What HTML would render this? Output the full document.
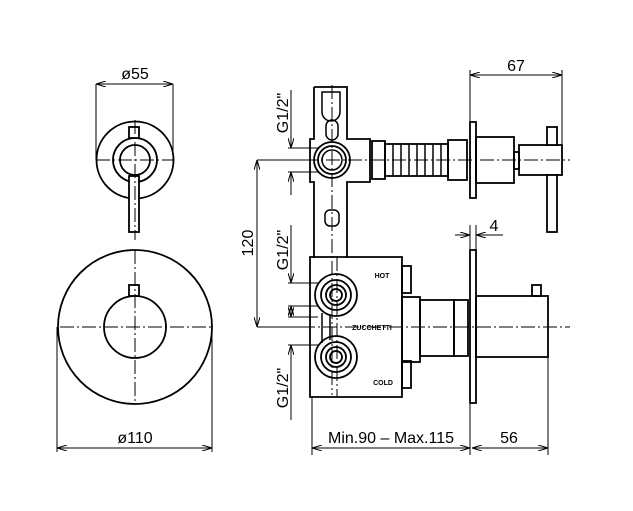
<!DOCTYPE html>
<html><head><meta charset="utf-8"><style>html,body{margin:0;padding:0;background:#fff}svg{display:block}</style></head><body>
<svg width="633" height="511" viewBox="0 0 633 511" xmlns="http://www.w3.org/2000/svg" font-family="Liberation Sans, sans-serif">
<defs><marker id="a" markerWidth="10" markerHeight="6" refX="10" refY="3" orient="auto-start-reverse" markerUnits="userSpaceOnUse"><path d="M0,0 L10,3 L0,6" fill="none" stroke="#000" stroke-width="1"/></marker></defs>
<g fill="none" stroke="#000" stroke-width="1.8">
<circle cx="135" cy="160" r="38.5"/>
<circle cx="135" cy="160" r="22"/>
<circle cx="135" cy="160" r="15"/>
<rect x="129" y="127" width="10" height="11" fill="#fff"/>
<rect x="129" y="176" width="10" height="56" fill="#fff"/>
<circle cx="135" cy="327" r="77"/>
<circle cx="135" cy="327" r="31"/>
<rect x="129" y="285" width="10" height="11"/>
<path d="M314,87 H347 V139 H370 V182 H347 V258 M314,87 V139 H310 V182 H314 V258"/>
<path d="M322,92 h18 v20 a9,9 0 0 1 -18,0 z" stroke-width="1.5"/>
<rect x="326" y="120" width="12" height="20" rx="6" stroke-width="1.5"/>
<rect x="325" y="210" width="14" height="16" rx="5" stroke-width="1.5"/>
<circle cx="332" cy="160" r="18"/><circle cx="332" cy="160" r="14"/><circle cx="332" cy="160" r="10" stroke-width="1.5"/>
<rect x="372" y="141" width="13" height="38"/>
<rect x="385" y="144" width="63" height="32"/>
<path d="M393,144v32M401,144v32M409,144v32M417,144v32M425,144v32M433,144v32M441,144v32" stroke-width="1.5"/>
<rect x="448" y="140" width="19" height="40"/>
<rect x="470" y="122" width="6" height="76"/>
<rect x="476" y="137" width="38" height="46"/>
<rect x="514" y="152" width="5" height="17"/>
<rect x="519" y="145" width="43" height="30"/>
<rect x="547" y="127" width="10" height="18" fill="#fff"/>
<rect x="547" y="175" width="10" height="57" fill="#fff"/>
<path d="M310,257 H402 V397 H310 Z"/>
<circle cx="336" cy="295" r="21"/><circle cx="336" cy="295" r="15"/><circle cx="336" cy="295" r="10"/><circle cx="336" cy="295" r="6"/>
<circle cx="336" cy="357" r="21"/><circle cx="336" cy="357" r="15"/><circle cx="336" cy="357" r="10"/><circle cx="336" cy="357" r="6"/>
<path d="M322,313 v30 M330,316 v24" stroke-width="1.5"/>
<rect x="402" y="266" width="9" height="27"/>
<rect x="402" y="361" width="9" height="27"/>
<rect x="402" y="297" width="18" height="65"/>
<rect x="420" y="300" width="34" height="56"/>
<rect x="454" y="300" width="14" height="56"/>
<rect x="470" y="250" width="6" height="153"/>
<rect x="476" y="296" width="72" height="61"/>
<rect x="532" y="285" width="9" height="11"/>
</g>
<g fill="none" stroke="#000" stroke-width="1">
<path d="M60,327 H212 M135,250 V404 M96,160 H174 M135,120 V240 M260,160 H570 M257,327 H570 M332,85 V395 M337,257 V397" stroke-dasharray="14,3,2,3"/>
<path d="M96,84 V160 M173,84 V160 M57,327 V452 M212,327 V452"/>
<line x1="96" y1="84" x2="173" y2="84" marker-start="url(#a)" marker-end="url(#a)"/>
<line x1="57" y1="448" x2="212" y2="448" marker-start="url(#a)" marker-end="url(#a)"/>
<path d="M470,70 V122 M562,70 V145"/>
<line x1="470" y1="75" x2="562" y2="75" marker-start="url(#a)" marker-end="url(#a)"/>
<path d="M470,225 V250 M476,225 V250"/>
<line x1="455" y1="235" x2="470" y2="235" marker-end="url(#a)"/>
<line x1="503" y1="235" x2="476" y2="235" marker-end="url(#a)"/>
<path d="M257,160 H310 M257,327 H310"/>
<line x1="257" y1="160" x2="257" y2="327" marker-start="url(#a)" marker-end="url(#a)"/>
<path d="M288,148 H318 M288,172 H318 M288,283 H318 M288,306 H318 M288,317 H318 M288,345 H318"/>
<line x1="291" y1="90" x2="291" y2="148" marker-end="url(#a)"/>
<line x1="291" y1="195" x2="291" y2="172" marker-end="url(#a)"/>
<line x1="291" y1="225" x2="291" y2="283" marker-end="url(#a)"/>
<line x1="291" y1="306" x2="291" y2="317" marker-start="url(#a)" marker-end="url(#a)"/>
<line x1="291" y1="420" x2="291" y2="345" marker-end="url(#a)"/>
<path d="M312,397 V455 M470,403 V455 M548,357 V455"/>
<line x1="312" y1="448" x2="470" y2="448" marker-start="url(#a)" marker-end="url(#a)"/>
<line x1="472" y1="448" x2="548" y2="448" marker-start="url(#a)" marker-end="url(#a)"/>
</g>
<g font-size="16" fill="#000">
<text x="135" y="79" text-anchor="middle">ø55</text>
<text x="135" y="443" text-anchor="middle">ø110</text>
<text x="516" y="71" text-anchor="middle">67</text>
<text x="494" y="231" text-anchor="middle">4</text>
<text x="391" y="443" text-anchor="middle">Min.90  –  Max.115</text>
<text x="509" y="443" text-anchor="middle">56</text>
<text transform="translate(253,243) rotate(-90)" text-anchor="middle">120</text>
<text transform="translate(288,113) rotate(-90)" text-anchor="middle">G1/2"</text>
<text transform="translate(288,250) rotate(-90)" text-anchor="middle">G1/2"</text>
<text transform="translate(288,388) rotate(-90)" text-anchor="middle">G1/2"</text>
</g>
<g font-size="7" font-weight="bold" fill="#000" text-anchor="middle">
<text x="382" y="278">HOT</text>
<text x="372" y="330">ZUCCHETTI</text>
<text x="383" y="385">COLD</text>
</g>
</svg>
</body></html>
